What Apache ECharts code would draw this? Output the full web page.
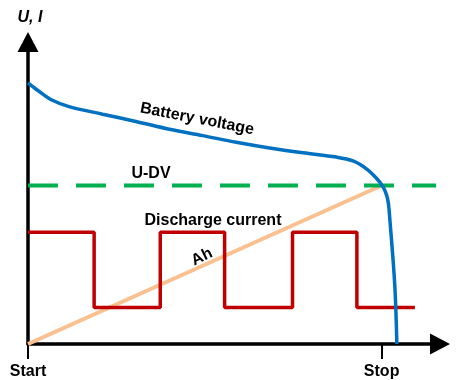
<!DOCTYPE html>
<html>
<head>
<meta charset="utf-8">
<script src="https://cdn.jsdelivr.net/npm/echarts@6/dist/echarts.min.js"></script>
<style>
  html, body { margin: 0; padding: 0; background: #fff; }
  #chart { width: 459px; height: 380px; }
</style>
</head>
<body>
<div id="chart"></div>
<script>
// time axis: Start = 0, Stop = 100 ; level axis 0..100
const tickValues = [0, 100]
const tickLabels = ['Start', 'Stop']

const voltageX = [0, 3.1, 6.9, 11.6, 21.1, 30.5, 40.0, 49.4, 58.9, 68.3, 77.8, 87.2, 91.9, 95.7, 98.6, 100.4, 101.4, 101.9, 102.3, 103.7, 104.3]
const voltageY = [86.5, 83.7, 80.7, 78.6, 76.1, 73.7, 71.1, 69.0, 66.8, 64.9, 63.3, 61.9, 60.6, 58.0, 54.8, 52.0, 49.3, 46.6, 41.6, 19.7, 0]

const currentX = [0, 18.7, 37.4, 55.6, 74.8, 93.0, 109.4]
const currentY = [37.0, 12.1, 37.0, 12.1, 37.0, 12.1, 12.1]

const udvX = [0, 115.4]
const udvY = [52.5, 52.5]

const ahX = [0, 100]
const ahY = [0, 52.5]

const zip = (xs, ys) => xs.map((x, i) => [x, ys[i]])

const chart = echarts.init(document.getElementById('chart'), null, { renderer: 'canvas' })

const textStyle = (text, size, extra) => Object.assign({
  text: text,
  fill: '#000',
  font: 'bold ' + size + 'px "Liberation Sans", Arial, sans-serif',
  align: 'center',
  verticalAlign: 'middle'
}, extra || {})

const option = {
  animation: false,
  grid: { left: 28, right: 19, top: 42, bottom: 33 },
  xAxis: {
    type: 'value',
    min: 0,
    max: 116.5,
    splitLine: { show: false },
    axisLine: {
      lineStyle: { color: '#000', width: 3.5 },
      symbol: ['none', 'triangle'],
      symbolSize: [21, 20]
    },
    axisTick: {
      customValues: tickValues,
      length: 15,
      lineStyle: { color: '#000', width: 2 }
    },
    axisLabel: {
      customValues: tickValues,
      margin: 20,
      color: '#000',
      fontSize: 16,
      fontWeight: 'bold',
      fontFamily: 'Liberation Sans',
      formatter: v => tickLabels[tickValues.indexOf(v)]
    }
  },
  yAxis: {
    type: 'value',
    min: 0,
    max: 100,
    splitLine: { show: false },
    axisTick: { show: false },
    axisLabel: { show: false },
    axisLine: {
      lineStyle: { color: '#000', width: 3.5 },
      symbol: ['none', 'triangle'],
      symbolSize: [21, 20]
    }
  },
  series: [
    {
      name: 'Ah',
      type: 'line',
      data: zip(ahX, ahY),
      showSymbol: false,
      z: 2,
      lineStyle: { color: '#FAC090', width: 4 }
    },
    {
      name: 'U-DV',
      type: 'line',
      data: zip(udvX, udvY),
      showSymbol: false,
      z: 3,
      lineStyle: { color: '#00B050', width: 4, type: [30, 18] }
    },
    {
      name: 'Discharge current',
      type: 'line',
      step: 'end',
      data: zip(currentX, currentY),
      showSymbol: false,
      z: 4,
      lineStyle: { color: '#C00000', width: 3.5 }
    },
    {
      name: 'Battery voltage',
      type: 'line',
      smooth: 0.35,
      data: zip(voltageX, voltageY),
      showSymbol: false,
      z: 5,
      lineStyle: { color: '#0070C0', width: 3.5 }
    }
  ],
  graphic: [
    { type: 'text', x: 30, y: 18, style: textStyle('U, I', 16, { font: 'italic bold 16px "Liberation Sans", Arial, sans-serif' }) },
    { type: 'text', x: 197, y: 119, rotation: -11 * Math.PI / 180, style: textStyle('Battery voltage', 16) },
    { type: 'text', x: 151, y: 174, style: textStyle('U-DV', 16) },
    { type: 'text', x: 213, y: 221, style: textStyle('Discharge current', 16) },
    { type: 'text', x: 202, y: 257, rotation: 26 * Math.PI / 180, style: textStyle('Ah', 16) }
  ]
}

chart.setOption(option)
</script>
</body>
</html>
